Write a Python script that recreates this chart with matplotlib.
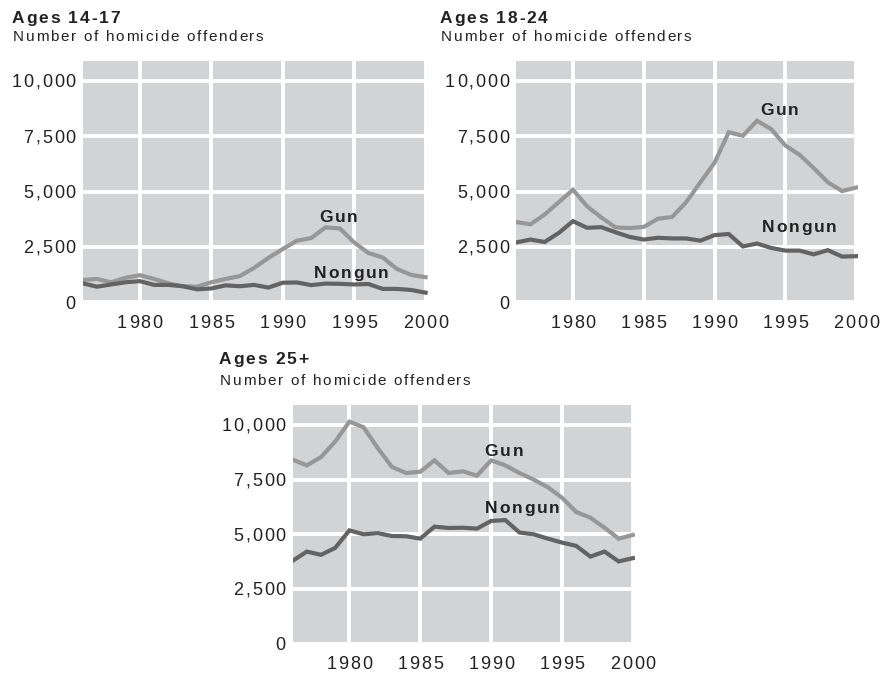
import matplotlib
matplotlib.use("Agg")
import matplotlib.pyplot as plt
from matplotlib import font_manager
from matplotlib.transforms import blended_transform_factory, ScaledTranslation
from fontTools.ttLib import TTFont

years = list(range(1976, 2001))

gun_14_17 = [1000, 1050, 900, 1100, 1220, 1050, 850, 720, 700, 900, 1050, 1180,
             1550, 2000, 2400, 2780, 2900, 3380, 3330, 2700, 2220, 2020, 1500, 1230, 1130]
nongun_14_17 = [850, 700, 800, 900, 950, 780, 780, 720, 580, 620, 760, 720,
                780, 660, 880, 890, 770, 840, 830, 800, 820, 600, 600, 550, 430]

gun_18_24 = [3620, 3520, 3960, 4520, 5080, 4330, 3830, 3380, 3350, 3400, 3770, 3850,
             4520, 5420, 6300, 7680, 7520, 8200, 7820, 7080, 6660, 6060, 5420, 5020, 5180]
nongun_18_24 = [2700, 2830, 2720, 3130, 3660, 3360, 3390, 3160, 2950, 2830, 2910, 2880,
                2880, 2780, 3030, 3080, 2520, 2650, 2450, 2330, 2330, 2160, 2350, 2060, 2080]

gun_25p = [8410, 8150, 8530, 9240, 10150, 9890, 8940, 8080, 7800, 7860, 8380, 7800,
           7880, 7680, 8380, 8150, 7800, 7500, 7150, 6670, 6020, 5760, 5300, 4800, 4970]
nongun_25p = [3790, 4210, 4060, 4380, 5180, 5000, 5050, 4920, 4910, 4800, 5350, 5290,
              5300, 5260, 5610, 5650, 5080, 5000, 4800, 4620, 4470, 3980, 4210, 3760, 3910]

titles = ["Ages 14-17", "Ages 18-24", "Ages 25+"]
subtitle = "Number of homicide offenders"
yticks = [0, 2500, 5000, 7500, 10000]
ytick_labels = ["0", "2,500", "5,000", "7,500", "10,000"]
xticks = [1980, 1985, 1990, 1995, 2000]
xtick_labels = ["1980", "1985", "1990", "1995", "2000"]
label_pos = [((1993.9, 3900), (1994.8, 1350)),
             ((1994.6, 8740), (1996.0, 3420)),
             ((1990.9, 8860), (1992.2, 6230))]

FAMILY = ['Liberation Sans', 'DejaVu Sans']
plt.rcParams['font.family'] = FAMILY
DPI = 100
W, H = 894, 675
fig = plt.figure(figsize=(W / DPI, H / DPI), dpi=DPI)

_font_cache = {}


def _metrics(weight):
    if weight not in _font_cache:
        fp = font_manager.FontProperties(family=FAMILY, weight=weight)
        path = font_manager.findfont(fp)
        tt = TTFont(path)
        cmap = tt.getBestCmap()
        hmtx = tt['hmtx']
        upem = tt['head'].unitsPerEm
        _font_cache[weight] = (cmap, hmtx, upem)
    return _font_cache[weight]


def tracked(x, y, s, size, weight='normal', track=1.8, ha='left', va='baseline',
            transform=None, color='#222222', dx=0.0, dy=0.0):
    cmap, hmtx, upem = _metrics(weight)
    px_per_unit = size * DPI / 72.0 / upem
    advs = []
    for ch in s:
        g = cmap.get(ord(ch))
        advs.append(hmtx[g][0] * px_per_unit if g else size * 0.5 * DPI / 72.0)
    total = sum(advs) + track * (len(s) - 1)
    if ha == 'center':
        start = -total / 2.0
    elif ha == 'right':
        start = -total
    else:
        start = 0.0
    pos = start
    for ch, a in zip(s, advs):
        if ch != ' ':
            fig.text(x, y, ch, fontsize=size, fontweight=weight, color=color,
                     ha='left', va=va,
                     transform=transform + ScaledTranslation(
                         (pos + dx) / DPI, dy / DPI, fig.dpi_scale_trans))
        pos += a + track


# pixel boxes: left, right, top, bottom(y=0)
boxes = [(82.7, 427.7, 61, 303.5), (516.3, 858.3, 61, 303.5), (292.7, 635, 405, 645)]
ten_k_px = [81, 81, 425]
title_pos = [(12, 23, 41), (440, 23, 41), (219, 364, 385)]

BG = '#d2d3d5'
GUN = '#979797'
NONGUN = '#636363'
TXT = '#222222'

series = [(gun_14_17, nongun_14_17), (gun_18_24, nongun_18_24), (gun_25p, nongun_25p)]

for i, ((l, r, t, b), (g, n)) in enumerate(zip(boxes, series)):
    ppk = (b - ten_k_px[i]) / 10000.0
    ytop = (b - t) / ppk
    ax = fig.add_axes([l / W, 1 - b / H, (r - l) / W, (b - t) / H])
    ax.set_xlim(1976, 2000.15)
    ax.set_ylim(-60, ytop)
    ax.set_facecolor(BG)
    for s in ax.spines.values():
        s.set_visible(False)
    ax.grid(True, color='white', linewidth=2.8)
    ax.set_axisbelow(True)
    ax.axhline(-60, color='#cfcfcf', linewidth=1.2, zorder=0.5)
    ax.axvline(2000.15, color='#cfcfcf', linewidth=1.2, zorder=0.5)
    ax.plot(years, g, color=GUN, linewidth=3, solid_joinstyle='miter', zorder=3)
    ax.plot(years, n, color=NONGUN, linewidth=3, solid_joinstyle='miter', zorder=3)
    ax.set_xticks(xticks)
    ax.set_yticks(yticks)
    ax.tick_params(length=0, labelleft=False, labelbottom=False)

    ytr = blended_transform_factory(ax.transAxes, ax.transData)
    for v, lab in zip(yticks, ytick_labels):
        tracked(0, v, lab, 13, track=1.8, ha='right', va='center_baseline',
                transform=ytr, dx=-7, color=TXT)
    xtr = blended_transform_factory(ax.transData, ax.transAxes)
    for v, lab in zip(xticks, xtick_labels):
        tracked(v, 0, lab, 13, track=1.8, ha='center', va='top',
                transform=xtr, dy=-11, color=TXT)

    (gx, gy), (nx, ny) = label_pos[i]
    tracked(gx, gy, "Gun", 12.5, weight='bold', track=1.8, ha='center',
            va='center_baseline', transform=ax.transData, color=TXT)
    tracked(nx, ny, "Nongun", 12.5, weight='bold', track=1.8, ha='center',
            va='center_baseline', transform=ax.transData, color=TXT)

    tx, ty, sy = title_pos[i]
    tracked(tx / W, 1 - ty / H, titles[i], 12.5, weight='bold', track=1.8,
            transform=fig.transFigure, color=TXT)
    tracked((tx + 1) / W, 1 - sy / H, subtitle, 11, track=1.7,
            transform=fig.transFigure, color=TXT)

fig.savefig("out.png", dpi=DPI, facecolor='white')
